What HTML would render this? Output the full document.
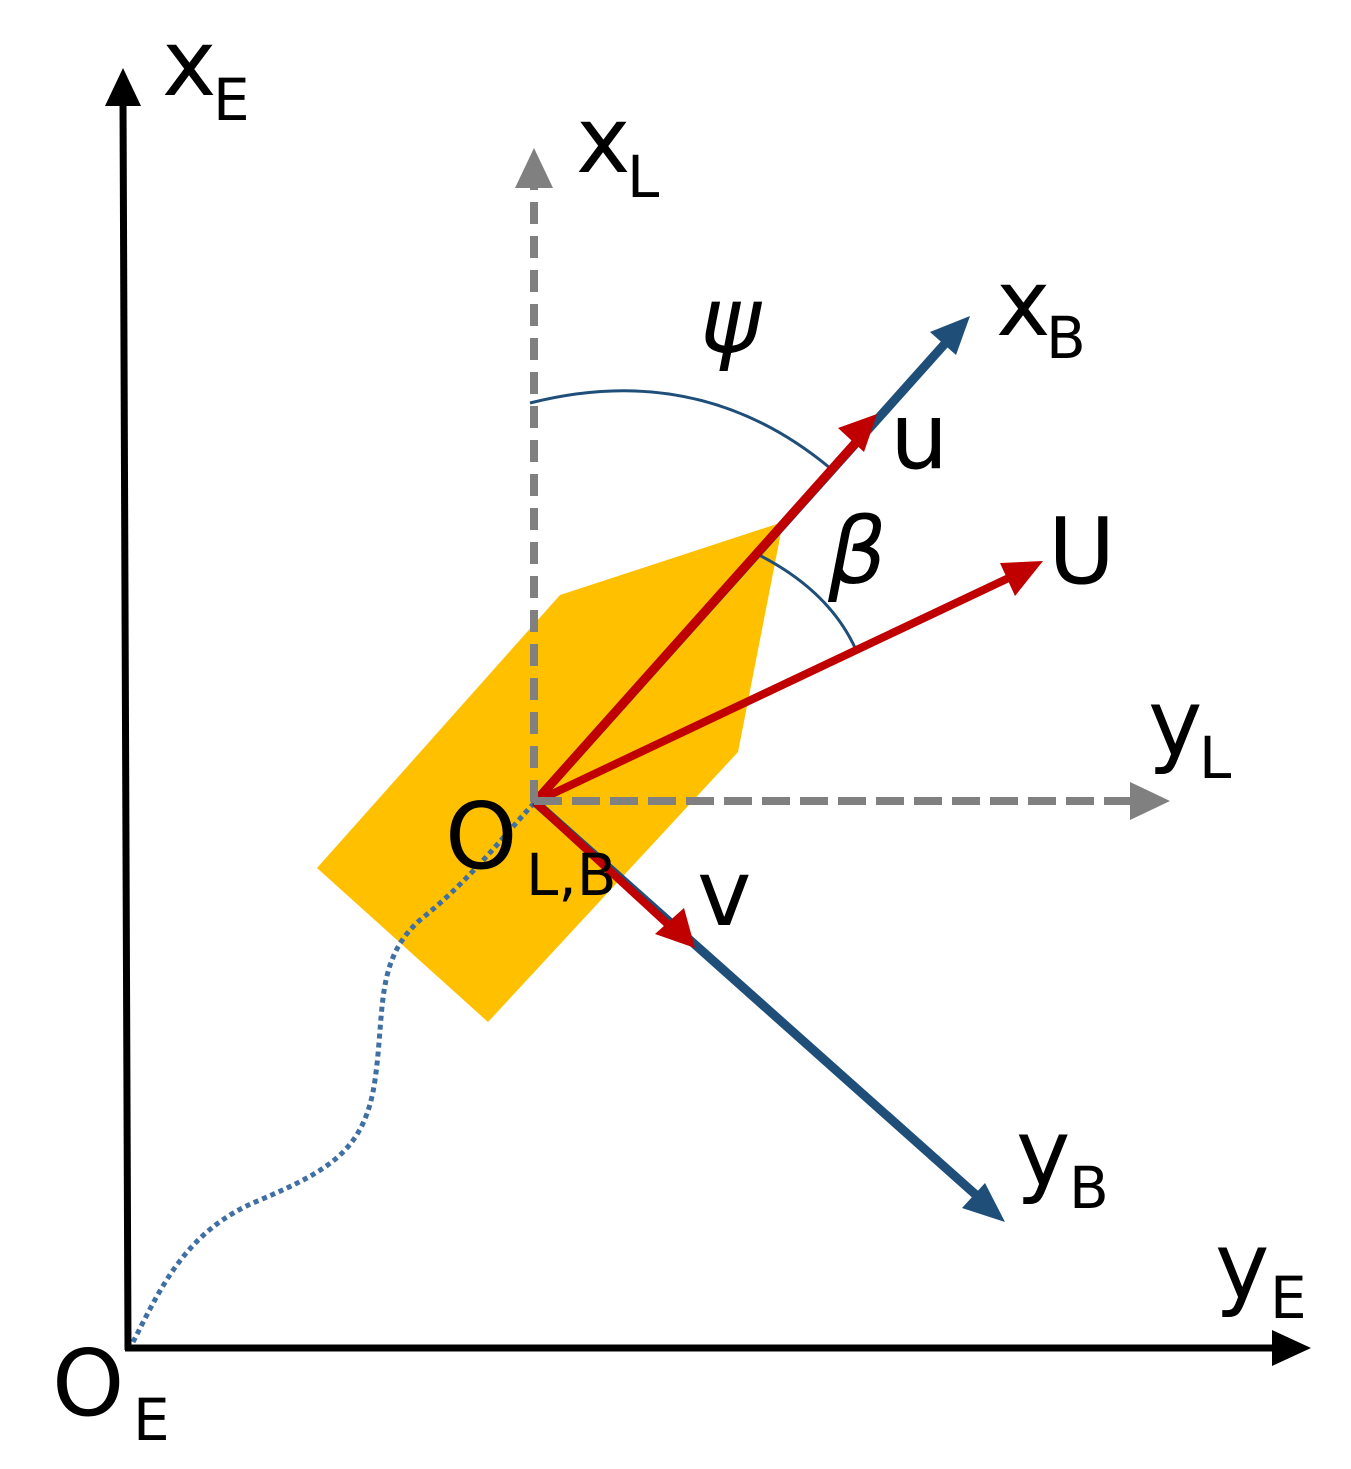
<!DOCTYPE html>
<html><head><meta charset="utf-8"><style>
html,body{margin:0;padding:0;background:#fff;}
svg{display:block;}
text{font-family:"DejaVu Sans","Liberation Sans",sans-serif;fill:#000;}
</style></head><body>
<svg width="1351" height="1469" viewBox="0 0 1351 1469" xmlns="http://www.w3.org/2000/svg">
<polygon points="560,595 783,522 738,752 488,1022 317,868" fill="#ffc000"/>
<path d="M133,1342 C160,1290 185,1230 260,1200 C330,1170 365,1150 375,1080 C385,1010 375,960 420,920 C470,880 500,840 535,802" fill="none" stroke="#3f6fa3" stroke-width="5" stroke-dasharray="5 4"/>
<line x1="128" y1="1350" x2="123" y2="100" stroke="#000" stroke-width="7"/>
<polygon points="123,68 105,106 141,106" fill="#000"/>
<line x1="125" y1="1348" x2="1278" y2="1348" stroke="#000" stroke-width="7"/>
<polygon points="1311,1348 1272,1330 1272,1366" fill="#000"/>
<line x1="535" y1="802" x2="950" y2="338" stroke="#1f4e79" stroke-width="9"/>
<polygon points="970,316 930,332 956,355" fill="#1f4e79"/>
<line x1="535" y1="802" x2="985" y2="1203" stroke="#1f4e79" stroke-width="9"/>
<polygon points="1005,1222 985,1183 962,1208" fill="#1f4e79"/>
<path d="M530,403 Q700,360 830,468" fill="none" stroke="#1f4e79" stroke-width="3"/>
<path d="M755,553 Q830,590 857,652" fill="none" stroke="#1f4e79" stroke-width="3"/>
<line x1="535" y1="802" x2="858" y2="440" stroke="#c00000" stroke-width="9"/>
<polygon points="877,414 838,428 864,452" fill="#c00000"/>
<line x1="535" y1="802" x2="1015" y2="575" stroke="#c00000" stroke-width="8"/>
<polygon points="1043,561 1000,563 1015,596" fill="#c00000"/>
<line x1="535" y1="802" x2="672" y2="928" stroke="#c00000" stroke-width="8"/>
<polygon points="695,948 684,908 655,934" fill="#c00000"/>
<line x1="534" y1="802" x2="534" y2="188" stroke="#808080" stroke-width="8" stroke-dasharray="22 12"/>
<polygon points="534,148 515,188 553,188" fill="#808080"/>
<line x1="534" y1="801" x2="1132" y2="801" stroke="#808080" stroke-width="8" stroke-dasharray="28 10"/>
<polygon points="1170,801 1130,782 1130,820" fill="#808080"/>
<text x="162" y="95" font-size="92">x</text><text x="213" y="120" font-size="58">E</text>
<text x="52" y="1415" font-size="92">O</text><text x="133" y="1440" font-size="58">E</text>
<text x="1215" y="1298" font-size="92">y</text><text x="1270" y="1318" font-size="58">E</text>
<text x="576" y="172" font-size="92">x</text><text x="627" y="197" font-size="58">L</text>
<text x="1148" y="755" font-size="92">y</text><text x="1199" y="778" font-size="58">L</text>
<text x="996" y="335" font-size="92">x</text><text x="1046" y="358" font-size="58">B</text>
<text x="1016" y="1185" font-size="92">y</text><text x="1069" y="1208" font-size="58">B</text>
<text x="890" y="468" font-size="92">u</text>
<text x="1048" y="583" font-size="92">U</text>
<text x="697" y="925" font-size="92">v</text>
<text x="445" y="868" font-size="92">O</text><text x="526" y="895" font-size="58">L,B</text>
<text x="700" y="352" font-size="92" font-style="italic" font-family="DejaVu Serif,serif">ψ</text>
<text x="828" y="583" font-size="92" font-style="italic" font-family="DejaVu Serif,serif">β</text>
</svg>
</body></html>
